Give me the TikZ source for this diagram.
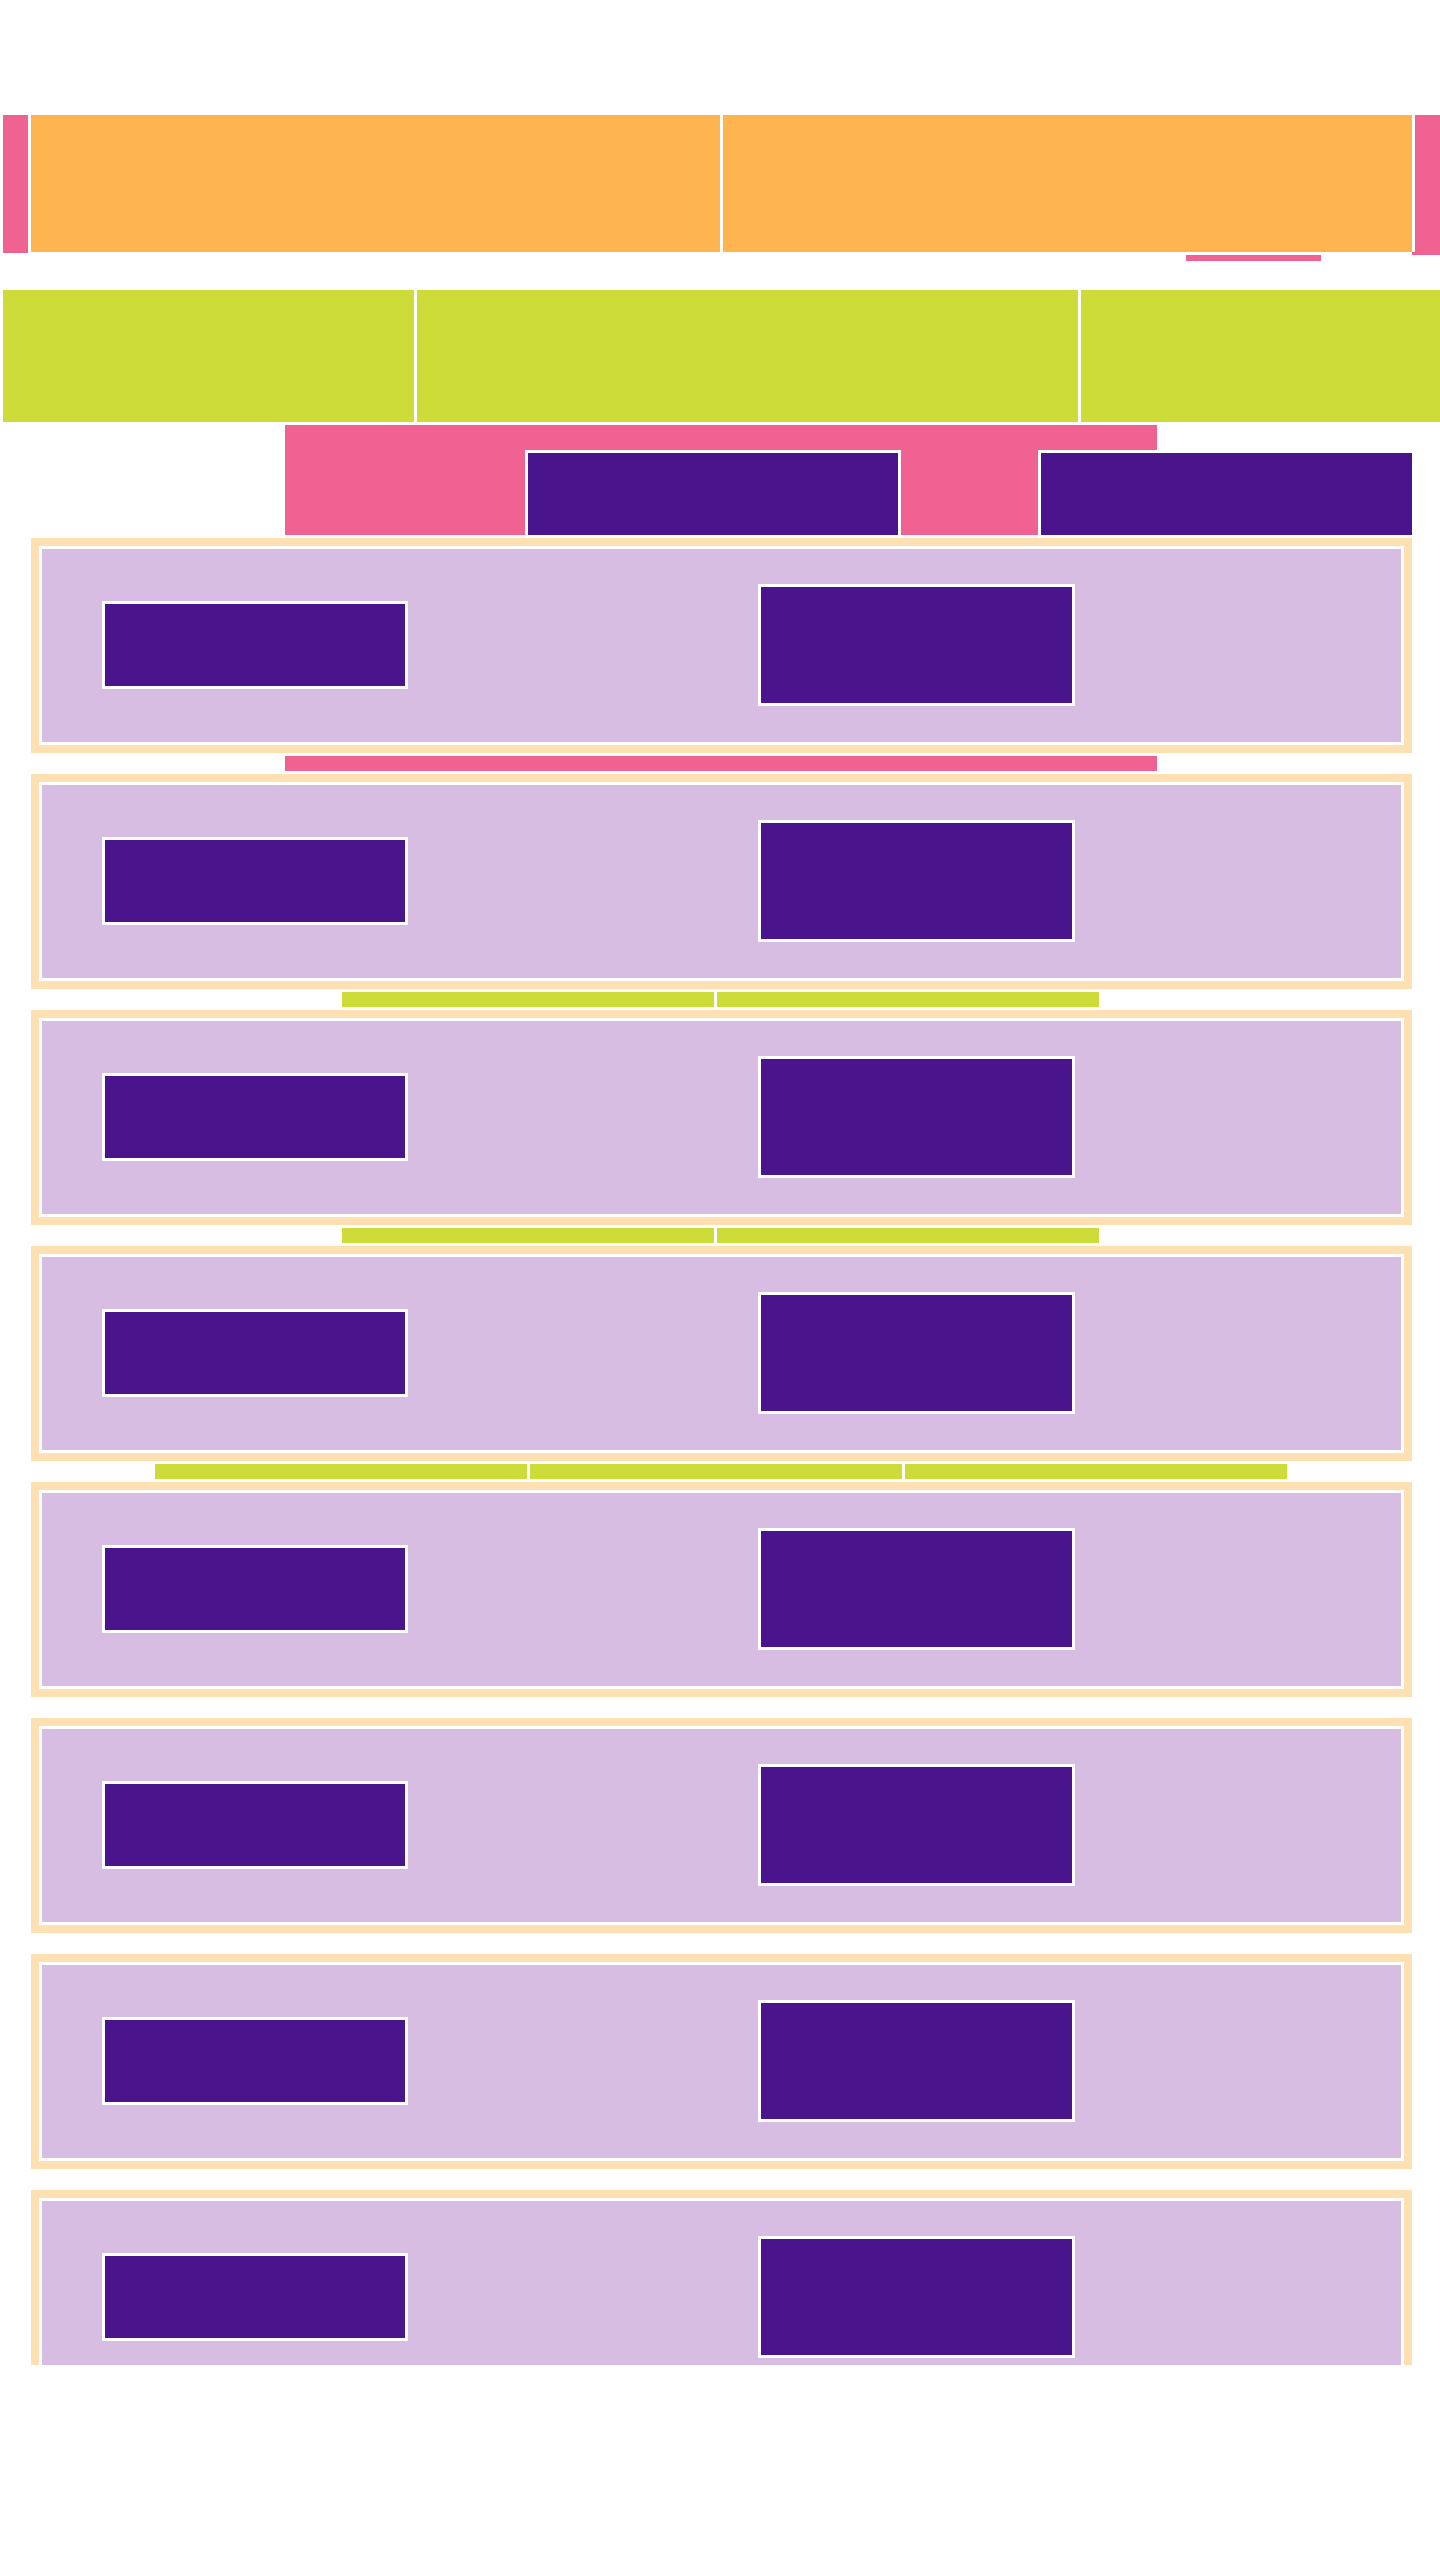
\documentclass[tikz,border=0pt]{standalone}
\definecolor{cpink}{HTML}{F06292}
\definecolor{corange}{HTML}{FFB54F}
\definecolor{clime}{HTML}{CDDC39}
\definecolor{cpurple}{HTML}{4A148C}
\definecolor{clav}{HTML}{D7BDE2}
\definecolor{cpeach}{HTML}{FFE0B2}
\tikzset{
  pinkbox/.style={fill=cpink},
  orangebox/.style={fill=corange},
  limebox/.style={fill=clime},
  purplebox/.style={fill=cpurple},
  lavbox/.style={fill=clav},
  peachbox/.style={fill=cpeach},
  whitebox/.style={fill=white}
}
\begin{document}
\begin{tikzpicture}[x=1pt,y=-1pt]
\useasboundingbox[fill=white] (0,0) rectangle (1440,2560);
% header row 1
\fill[pinkbox] (3,115) rectangle (28,253);
\fill[orangebox] (31,115) rectangle (720,252);
\fill[orangebox] (723,115) rectangle (1412,252);
\fill[pinkbox] (1412,115) rectangle (1440,255);
\fill[whitebox] (1412,115) rectangle (1415,252);
\fill[pinkbox] (1186,255) rectangle (1321,261);
% header row 2
\fill[limebox] (3,290) rectangle (414,422);
\fill[limebox] (417,290) rectangle (1078,422);
\fill[limebox] (1081,290) rectangle (1440,422);
% header row 3
\fill[pinkbox] (285,425) rectangle (1157,535);
\fill[whitebox] (525,450) rectangle (901,538);
\fill[purplebox] (528,453) rectangle (898,535);
\fill[whitebox] (1038,450) rectangle (1415,538);
\fill[purplebox] (1041,453) rectangle (1412,535);
% sections
\begin{scope}
\clip (0,0) rectangle (1440,2364);
\foreach \k in {0,...,7}{
  \pgfmathsetmacro\T{538+236*\k}
  \fill[peachbox] (31,\T) rectangle (1412,\T+215);
  \fill[whitebox] (39,\T+8) rectangle (1404,\T+207);
  \fill[lavbox] (42,\T+11) rectangle (1401,\T+204);
  \fill[whitebox] (102,\T+63) rectangle (408,\T+151);
  \fill[purplebox] (105,\T+66) rectangle (405,\T+148);
  \fill[whitebox] (758,\T+46) rectangle (1075,\T+168);
  \fill[purplebox] (761,\T+49) rectangle (1072,\T+165);
}
\end{scope}
% connectors between sections
\fill[pinkbox] (285,756) rectangle (1157,771);
\fill[limebox] (342,992) rectangle (714,1007);
\fill[limebox] (717,992) rectangle (1099,1007);
\fill[limebox] (342,1228) rectangle (714,1243);
\fill[limebox] (717,1228) rectangle (1099,1243);
\fill[limebox] (155,1464) rectangle (527,1479);
\fill[limebox] (530,1464) rectangle (902,1479);
\fill[limebox] (905,1464) rectangle (1287,1479);
\end{tikzpicture}
\end{document}
